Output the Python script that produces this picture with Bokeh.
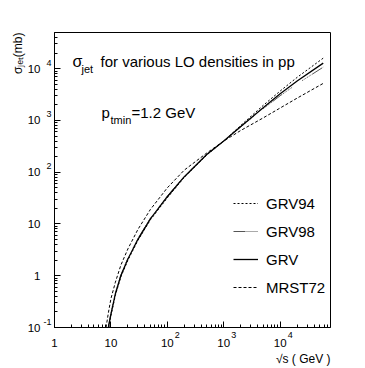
from bokeh.plotting import figure
from bokeh.models import Label, FixedTicker, CustomJSTickFormatter, LogAxis, Title
from bokeh.embed import file_html
from bokeh.resources import INLINE

# ---------------- data ----------------
grv94_x = [9.2, 10, 12, 15, 20, 30, 50, 100, 200, 500, 1000, 2000, 5000, 10000, 20000, 58000]
grv94_y = [0.1, 0.17, 0.42, 0.95, 2.0, 4.8, 12, 32, 80, 215, 400, 800, 1950, 3700, 6800, 16000]

grv98_x = [9.0, 10, 12, 15, 20, 30, 50, 100, 200, 500, 1000, 2000, 5000, 10000, 20000, 58000]
grv98_y = [0.1, 0.19, 0.47, 1.03, 2.2, 5.2, 12.9, 34.5, 84, 222, 400, 750, 1680, 3000, 5100, 10700]

grv_x = [9.0, 10, 12, 15, 20, 30, 50, 100, 200, 500, 1000, 2000, 5000, 10000, 20000, 58000]
grv_y = [0.1, 0.18, 0.45, 1.0, 2.1, 5.0, 12.5, 33.6, 82, 220, 400, 760, 1750, 3280, 5800, 12800]

mrst72_x = [8.2, 9, 10, 12, 15, 20, 30, 50, 100, 200, 500, 1000, 2000, 5000, 10000, 20000, 58000]
mrst72_y = [0.1, 0.19, 0.36, 0.75, 1.6, 3.3, 7.8, 19, 50, 110, 235, 400, 640, 1120, 1740, 2700, 5200]

series_names = ["GRV94", "GRV98", "GRV", "MRST72"]

x_tick_vals = [1, 10, 100, 1000, 10000]
x_tick_base = ["1", "10", "10", "10", "10"]
x_tick_exp = ["", "", "2", "3", "4"]

y_tick_vals = [0.1, 1, 10, 100, 1000, 10000]
y_tick_base = ["10", "1", "10", "10", "10", "10"]
y_tick_exp = ["-1", "", "", "2", "3", "4"]

title_sigma = "σ"
title_sub = "jet"
title_rest = "for various LO densities in pp"
pt_main = "p"
pt_sub = "tmin"
pt_rest = "=1.2 GeV"
xlabel = "√s ( GeV )"
ylabel = "σⱼₑₜ(mb)"

# ---------------- figure ----------------
FONT = "Liberation Sans"
NBSP = "\u00a0"
p = figure(width=365, height=368, x_axis_type="log", y_axis_type="log",
           x_range=(1, 7.8e4), y_range=(0.1, 5e4),
           output_backend="svg", toolbar_location=None,
           min_border_left=54, min_border_right=35,
           min_border_top=32, min_border_bottom=41)
p.background_fill_color = "white"
p.border_fill_color = "white"
p.xgrid.visible = False
p.ygrid.visible = False
p.outline_line_color = "black"
p.outline_line_width = 1
p.outline_line_alpha = 1

x_minor = [k * 10 ** d for d in range(0, 5) for k in range(2, 10) if k * 10 ** d <= 7.8e4]
y_minor = [k * 10.0 ** d for d in range(-1, 5) for k in range(2, 10) if k * 10.0 ** d <= 5e4]


def lookup_formatter(vals, labels):
    return CustomJSTickFormatter(
        args=dict(vals=vals, labs=labels),
        code="""
        for (let i = 0; i < vals.length; i++) {
          if (Math.abs(Math.log10(tick) - Math.log10(vals[i])) < 1e-6) return labs[i];
        }
        return '';
        """)


# main axes: ticks + exponent labels
x_exp_labels = [(NBSP * 8 + e) if e else "" for e in x_tick_exp]
y_exp_labels = [(e + "\n" + NBSP) if e else "" for e in y_tick_exp]

xa = p.xaxis[0]
ya = p.yaxis[0]
xa.ticker = FixedTicker(ticks=x_tick_vals, minor_ticks=x_minor)
ya.ticker = FixedTicker(ticks=y_tick_vals, minor_ticks=y_minor)
xa.formatter = lookup_formatter(x_tick_vals, x_exp_labels)
ya.formatter = lookup_formatter(y_tick_vals, y_exp_labels)
xa.major_label_standoff = 2
ya.major_label_standoff = 3
for ax in (xa, ya):
    ax.axis_line_color = "black"
    ax.axis_line_width = 1
    ax.major_tick_in = 6
    ax.major_tick_out = 0
    ax.minor_tick_in = 3
    ax.minor_tick_out = 0
    ax.major_tick_line_color = "black"
    ax.minor_tick_line_color = "black"
    ax.major_label_text_font = FONT
    ax.major_label_text_font_size = "9px"
    ax.major_label_text_color = "black"

# base-label axes ("10", "1")
xb = LogAxis(ticker=FixedTicker(ticks=x_tick_vals, minor_ticks=[]),
             formatter=lookup_formatter(x_tick_vals, x_tick_base))
yb = LogAxis(ticker=FixedTicker(ticks=y_tick_vals, minor_ticks=[]),
             formatter=lookup_formatter(y_tick_vals, y_tick_base))
xb.major_label_standoff = -4
yb.major_label_standoff = 0
for ax in (xb, yb):
    ax.axis_line_color = None
    ax.major_tick_line_color = None
    ax.minor_tick_line_color = None
    ax.major_tick_in = 0
    ax.major_tick_out = 0
    ax.minor_tick_in = 0
    ax.minor_tick_out = 0
    ax.major_label_text_font = FONT
    ax.major_label_text_font_size = "11.5px"
    ax.major_label_text_color = "black"
p.add_layout(xb, "below")
p.add_layout(yb, "left")

# axis titles
title_props = Title.properties()
xt = Title(text=xlabel, align="right", text_font=FONT, text_font_size="12px",
           text_font_style="normal", text_color="black")
yt = Title(text=ylabel, align="right", text_font=FONT, text_font_size="12px",
           text_font_style="normal", text_color="black")
if "standoff" in title_props:
    xt.standoff = 0
    yt.standoff = 0
p.add_layout(xt, "below")
p.add_layout(yt, "left")

# ---------------- curves ----------------
p.line(grv94_x, grv94_y, line_color="black", line_width=1, line_dash="2 2", legend_label=series_names[0])
p.line(grv98_x, grv98_y, line_color="#555555", line_width=1,
       line_dash="12 1 1 1 1 1 1 1 1 1 1 1 1", legend_label=series_names[1])
p.line(grv_x, grv_y, line_color="black", line_width=1.3, legend_label=series_names[2])
p.line(mrst72_x, mrst72_y, line_color="black", line_width=1, line_dash="3 2", legend_label=series_names[3])

lg = p.legend[0]
lg.location = (179, 30)
lg.glyph_width = 25
lg.glyph_height = 20
lg.label_height = 20
lg.label_standoff = 8
lg.spacing = 8
lg.padding = 0
lg.margin = 0
lg.background_fill_alpha = 0
lg.border_line_alpha = 0
lg.label_text_font = FONT
lg.label_text_font_size = "15px"
lg.label_text_color = "black"


# ---------------- in-frame texts ----------------
def lab(**kw):
    kw.setdefault("text_font", FONT)
    kw.setdefault("text_color", "black")
    kw.setdefault("x_units", "screen")
    kw.setdefault("y_units", "screen")
    p.add_layout(Label(**kw))


lab(x=18, y=258, text=title_sigma, text_font_size="16px")
lab(x=27, y=253, text=title_sub, text_font_size="11px")
lab(x=46, y=258, text=title_rest, text_font_size="15px")

lab(x=47, y=206.5, text=pt_main, text_font_size="15px")
lab(x=56, y=202, text=pt_sub, text_font_size="11px")
lab(x=77, y=206.5, text=pt_rest, text_font_size="15px")

open("out.html", "w").write(file_html(p, INLINE))
